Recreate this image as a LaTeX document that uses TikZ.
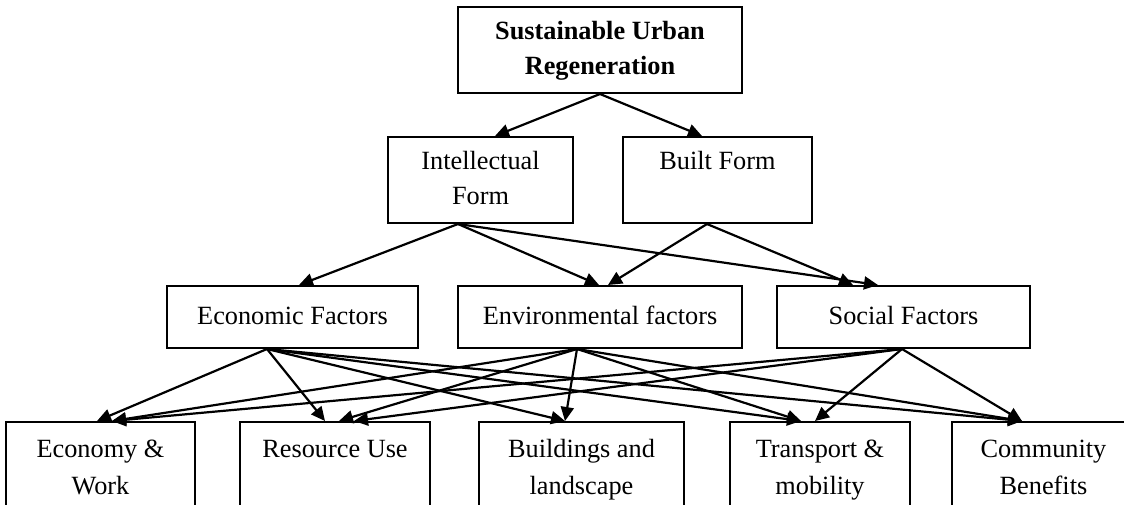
\documentclass[tikz,border=0pt]{standalone}
\usepackage{fontspec}
\setmainfont{Liberation Serif}
\usetikzlibrary{arrows.meta}
\tikzstyle{box}=[draw, line width=2pt, align=center, inner sep=0pt, font=\fontsize{26.3pt}{35pt}\selectfont]
\tikzstyle{lowbox}=[box, minimum height=94pt, font=\fontsize{26.3pt}{37pt}\selectfont]
\tikzstyle{arr}=[-{Triangle[length=14pt,width=13pt]}, line width=2.2pt]

\begin{document}
\begin{tikzpicture}
            \useasboundingbox (0,0) rectangle (1124pt,-505pt);
            \clip (0,0) rectangle (1124pt,-505pt);
            \node [box, minimum width=284pt, minimum height=86pt] (SUR) at (600pt,-50pt) {\textbf{Sustainable Urban}\strut\\\textbf{Regeneration}\strut};
            \node [box, minimum width=185pt, minimum height=86pt, below of=SUR, node distance=130pt, xshift=-119.5pt] (IF) {Intellectual\strut\\Form\strut};
            \node [box, minimum width=189pt, minimum height=86pt, right of=IF, node distance=237pt] (BF) {Built Form\strut\\\strut};
            \node [box, minimum width=251pt, minimum height=62pt, below of=IF, node distance=137pt, xshift=-188pt] (EcoF) {Economic Factors\strut};
            \node [box, minimum width=284pt, minimum height=62pt, right of=EcoF, node distance=307.5pt] (EnvF) {Environmental factors\strut};
            \node [box, minimum width=253pt, minimum height=62pt, right of=EnvF, node distance=303.5pt] (SocF) {Social Factors\strut};
            \node [lowbox, minimum width=189pt, below of=EcoF, node distance=152pt, xshift=-192pt] (EW) {Economy \&\strut\\Work\strut};
            \node [lowbox, minimum width=190pt, right of=EW, node distance=234.5pt] (RU) {Resource Use\strut\\\strut};
            \node [lowbox, minimum width=205pt, right of=RU, node distance=246.5pt] (BL) {Buildings and\strut\\landscape\strut};
            \node [lowbox, minimum width=180pt, right of=BL, node distance=238.5pt] (TM) {Transport \&\strut\\mobility\strut};
            \node [lowbox, minimum width=183pt, right of=TM, node distance=223.5pt] (CB) {Community\strut\\Benefits\strut};
            % top levels
            \path[arr] (SUR.south) edge ([xshift=14.5pt]IF.north);
            \path[arr] (SUR.south) edge ([xshift=-15.5pt]BF.north);
            \path[arr] ([xshift=-22.5pt]IF.south) edge ([xshift=6.5pt]EcoF.north);
            \path[arr] ([xshift=-22.5pt]IF.south) edge ([xshift=-1pt]EnvF.north);
            \path[arr] ([xshift=-22.5pt]IF.south) edge ([xshift=-25.5pt]SocF.north);
            \path[arr] ([xshift=-10.5pt]BF.south) edge ([xshift=8pt]EnvF.north);
            \path[arr] ([xshift=-10.5pt]BF.south) edge ([xshift=-50.5pt]SocF.north);
            % factors to outcomes
            \path[arr] ([xshift=-25.5pt]EcoF.south) edge ([xshift=-3.5pt]EW.north);
            \path[arr] ([xshift=-25.5pt]EcoF.south) edge ([xshift=-10pt]RU.north);
            \path[arr] ([xshift=-25.5pt]EcoF.south) edge ([xshift=-16.5pt]BL.north);
            \path[arr] ([xshift=-25.5pt]EcoF.south) edge ([xshift=-19pt]TM.north);
            \path[arr] ([xshift=-25.5pt]EcoF.south) edge ([xshift=-21.5pt]CB.north);
            \path[arr] ([xshift=-23pt]EnvF.south) edge ([xshift=11.5pt]EW.north);
            \path[arr] ([xshift=-23pt]EnvF.south) edge ([xshift=4pt]RU.north);
            \path[arr] ([xshift=-23pt]EnvF.south) edge ([xshift=-16.5pt]BL.north);
            \path[arr] ([xshift=-23pt]EnvF.south) edge ([xshift=-19pt]TM.north);
            \path[arr] ([xshift=-23pt]EnvF.south) edge ([xshift=-21.5pt]CB.north);
            \path[arr] ([xshift=-1.5pt]SocF.south) edge ([xshift=11.5pt]EW.north);
            \path[arr] ([xshift=-1.5pt]SocF.south) edge ([xshift=19pt]RU.north);
            \path[arr] ([xshift=-1.5pt]SocF.south) edge ([xshift=-5pt]TM.north);
            \path[arr] ([xshift=-1.5pt]SocF.south) edge ([xshift=-21.5pt]CB.north);
        \end{tikzpicture}
\end{document}
